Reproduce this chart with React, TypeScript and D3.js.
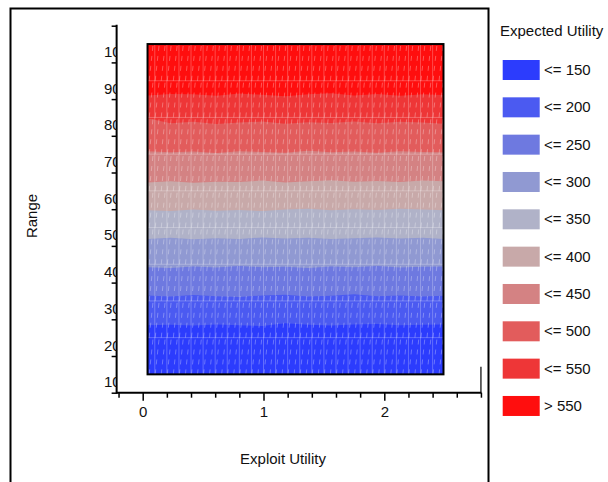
import * as d3 from "d3";
import React, { useEffect, useRef } from "react";

// legend / bands
const bandLabels = ["<= 150", "<= 200", "<= 250", "<= 300", "<= 350", "<= 400", "<= 450", "<= 500", "<= 550", "> 550"];
const bandColors = ["#2c3cfd", "#4b5af1", "#6e79e0", "#9099d2", "#b0b2c8", "#c8a9a9", "#d48283", "#e25c5c", "#ee3637", "#ff0e0e"];

// contour edges (Range value at each Exploit Utility sample)
const sampleX = [0.04, 0.23, 0.42, 0.61, 0.8, 0.99, 1.18, 1.37, 1.56, 1.75, 1.94, 2.13, 2.32, 2.49];
const edge150 = [28.4, 28.5, 28.3, 28.6, 28.4, 28.2, 28.9, 28.5, 28.3, 28.6, 28.7, 28.4, 28.5, 28.6];
const edge200 = [36.5, 36.2, 36.6, 36.3, 36.1, 36.5, 36.7, 36.2, 36.4, 36.8, 36.3, 36.5, 36.2, 36.4];
const edge250 = [44.2, 44.0, 44.4, 44.1, 44.5, 44.2, 44.3, 44.0, 44.4, 44.2, 44.5, 44.1, 44.3, 44.4];
const edge300 = [51.9, 52.2, 51.8, 52.1, 51.9, 52.3, 52.0, 52.2, 51.9, 52.1, 52.3, 52.0, 52.2, 51.9];
const edge350 = [59.7, 59.5, 59.9, 59.6, 59.8, 59.5, 59.9, 60.1, 59.7, 60.0, 59.8, 60.1, 59.9, 59.7];
const edge400 = [67.3, 67.6, 67.2, 67.5, 67.4, 67.8, 67.3, 67.6, 67.9, 67.5, 67.7, 67.4, 67.8, 67.6];
const edge450 = [75.8, 75.5, 75.7, 75.3, 75.8, 75.6, 75.4, 75.9, 75.5, 75.7, 75.4, 75.8, 75.6, 75.5];
const edge500 = [84.8, 83.4, 83.8, 83.2, 83.6, 83.9, 83.3, 83.7, 83.5, 83.9, 83.4, 83.8, 83.6, 83.3];
const edge550 = [91.0, 91.4, 91.3, 90.9, 91.5, 91.2, 90.8, 91.3, 91.6, 91.0, 91.4, 90.9, 91.3, 91.1];
const edges = [edge150, edge200, edge250, edge300, edge350, edge400, edge450, edge500, edge550];

// data extent of the surface
const surfX = [0.04, 2.49];
const surfY = [15, 105];

// axes
const xMajor = [0, 1, 2];
const xMinor = [-0.2, 0.2, 0.4, 0.6, 0.8, 1.2, 1.4, 1.6, 1.8, 2.2, 2.4, 2.6, 2.8];
const xAxisEnds = [-0.22, 2.8];
const yTicks = [10, 20, 30, 40, 50, 60, 70, 80, 90, 100, 110];
const yLabels = [10, 20, 30, 40, 50, 60, 70, 80, 90, 100];

const font = "'Liberation Sans', Arial, sans-serif";

const App = () => {
  const svgRef = useRef(null);

  useEffect(() => {
    const width = 608;
    const height = 482;
    const svg = d3.select(svgRef.current).attr("width", width).attr("height", height);
    svg.selectAll("*").remove();

    const x = d3.scaleLinear().domain([0, 2.5]).range([142.7, 444.7]);
    const y = d3.scaleLinear().domain([10, 110]).range([392.7, 25.7]);

    // outer frame
    svg.append("rect")
      .attr("x", 10.5).attr("y", 8.5)
      .attr("width", 478).attr("height", 520)
      .attr("fill", "none").attr("stroke", "#000").attr("stroke-width", 2);

    const defs = svg.append("defs");
    defs.append("clipPath").attr("id", "surf")
      .append("rect")
      .attr("x", x(surfX[0])).attr("y", y(surfY[1]))
      .attr("width", x(surfX[1]) - x(surfX[0]))
      .attr("height", y(surfY[0]) - y(surfY[1]));
    defs.append("clipPath").attr("id", "ylab")
      .append("rect").attr("x", 0).attr("y", 0).attr("width", 116.5).attr("height", height);

    const g = svg.append("g").attr("clip-path", "url(#surf)");

    // bands: base colour, then every edge fills upward
    g.append("rect")
      .attr("x", x(surfX[0])).attr("y", y(surfY[1]))
      .attr("width", x(surfX[1]) - x(surfX[0]))
      .attr("height", y(surfY[0]) - y(surfY[1]))
      .attr("fill", bandColors[0]);

    const area = d3.area()
      .x((d) => x(d[0]))
      .y0(y(surfY[1]) - 2)
      .y1((d) => y(d[1]));

    edges.forEach((e, i) => {
      g.append("path")
        .datum(sampleX.map((sx, j) => [sx, e[j]]))
        .attr("fill", bandColors[i + 1])
        .attr("d", area);
    });

    // mesh texture
    const cols = d3.range(0.1, 2.45, 0.1);
    g.selectAll(".vline").data(cols).join("line")
      .attr("x1", (d) => x(d)).attr("x2", (d) => x(d))
      .attr("y1", y(surfY[1])).attr("y2", y(surfY[0]))
      .attr("stroke", "#fff").attr("stroke-opacity", 0.25).attr("stroke-width", 1);

    const rows = d3.range(25, 100, 10);
    g.selectAll(".hline").data(rows).join("line")
      .attr("x1", x(surfX[0])).attr("x2", x(surfX[1]))
      .attr("y1", (d) => y(d)).attr("y2", (d) => y(d))
      .attr("stroke", "#fff").attr("stroke-opacity", 0.25).attr("stroke-width", 1);

    const dashCols = d3.range(0.07, 2.49, 0.05);
    const dashRows = d3.range(15, 105, 10);
    dashCols.forEach((c) => {
      g.selectAll(null).data(dashRows).join("line")
        .attr("x1", x(c) - 2).attr("x2", x(c) + 2)
        .attr("y1", (d) => y(d)).attr("y2", (d) => y(d + 10))
        .attr("stroke", "#fff").attr("stroke-opacity", 0.38).attr("stroke-width", 0.8)
        .attr("stroke-dasharray", "5,5");
    });

    svg.append("rect")
      .attr("x", x(surfX[0])).attr("y", y(surfY[1]))
      .attr("width", x(surfX[1]) - x(surfX[0]))
      .attr("height", y(surfY[0]) - y(surfY[1]))
      .attr("fill", "none").attr("stroke", "#000").attr("stroke-width", 2);

    // x axis
    const gx = svg.append("g").attr("transform", `translate(0,${y(10)})`);
    gx.append("g")
      .call(d3.axisBottom(x).tickValues(xMinor).tickSize(5).tickFormat(() => ""))
      .call((a) => a.select(".domain").remove());
    gx.append("g")
      .call(d3.axisBottom(x).tickValues(xMajor).tickSize(8).tickPadding(6).tickFormat(d3.format("d")))
      .call((a) => a.select(".domain").remove());
    gx.selectAll(".tick line").attr("stroke", "#000").attr("stroke-width", 1.5);
    gx.selectAll("text").attr("font-family", font).attr("font-size", 15).attr("fill", "#111");
    gx.append("line")
      .attr("x1", x(xAxisEnds[0])).attr("x2", x(xAxisEnds[1]) + 0.5)
      .attr("stroke", "#000").attr("stroke-width", 2);
    gx.append("line")
      .attr("x1", x(xAxisEnds[1])).attr("x2", x(xAxisEnds[1]))
      .attr("y1", 0).attr("y2", -26)
      .attr("stroke", "#000").attr("stroke-width", 1.2);

    // y axis
    const axisX = x(xAxisEnds[0]) + 0.5;
    const gy = svg.append("g").attr("transform", `translate(${axisX},0)`);
    gy.call(d3.axisLeft(y).tickValues(yTicks).tickSize(5).tickSizeOuter(0).tickFormat(() => ""))
      .call((a) => a.select(".domain").remove());
    gy.selectAll(".tick line").attr("stroke", "#000").attr("stroke-width", 1.5);
    gy.append("line")
      .attr("y1", y(yTicks[yTicks.length - 1]) - 1).attr("y2", y(10) + 1)
      .attr("stroke", "#000").attr("stroke-width", 2);

    svg.append("g").attr("clip-path", "url(#ylab)")
      .selectAll("text").data(yLabels).join("text")
      .attr("x", 104).attr("y", (d) => y(d) - 5.5)
      .attr("font-family", font).attr("font-size", 15).attr("fill", "#111")
      .text((d) => d);

    // axis titles
    svg.append("text")
      .attr("x", 283).attr("y", 464)
      .attr("text-anchor", "middle")
      .attr("font-family", font).attr("font-size", 15).attr("fill", "#111")
      .text("Exploit Utility");
    svg.append("text")
      .attr("transform", "translate(37,216) rotate(-90)")
      .attr("text-anchor", "middle")
      .attr("font-family", font).attr("font-size", 15).attr("fill", "#111")
      .text("Range");

    // legend
    const lg = svg.append("g").attr("transform", "translate(500,0)");
    lg.append("text")
      .attr("x", 0).attr("y", 36)
      .attr("font-family", font).attr("font-size", 15).attr("fill", "#111")
      .text("Expected Utility");
    const item = lg.selectAll(".item").data(bandLabels).join("g")
      .attr("transform", (d, i) => `translate(0,${60 + i * 37.33})`);
    item.append("rect")
      .attr("x", 2.7).attr("width", 37).attr("height", 20)
      .attr("fill", (d, i) => bandColors[i]);
    item.append("text")
      .attr("x", 44).attr("y", 15)
      .attr("font-family", font).attr("font-size", 15).attr("fill", "#111")
      .text((d) => d);
  }, []);

  return (
    <div style={{ position: "absolute", left: 0, top: 0 }}>
      <svg ref={svgRef}></svg>
    </div>
  );
};

export default App;
